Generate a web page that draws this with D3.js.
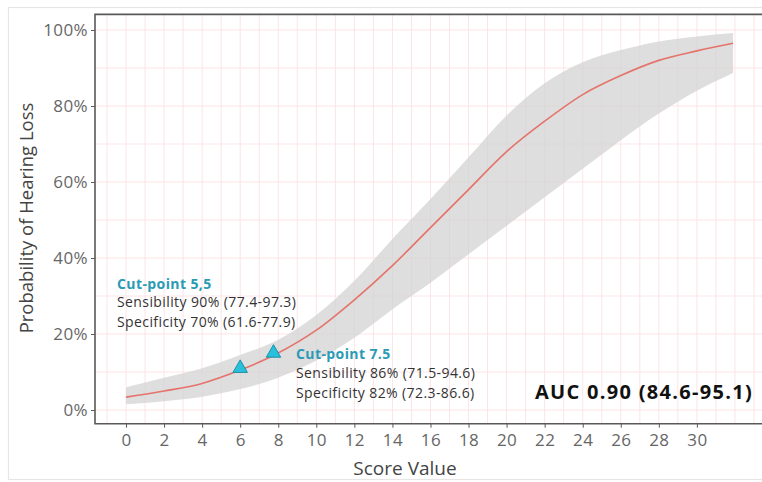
<!DOCTYPE html>
<html><head><meta charset="utf-8">
<script src="https://cdn.jsdelivr.net/npm/d3@7"></script>
<style>html,body{margin:0;padding:0;background:#fff;}svg{display:block;font-family:"Open Sans",sans-serif;}</style>
</head><body>
<svg id="chart" width="762" height="482"></svg>
<script>
// Data
const scoreX  = [0, 2, 4, 6, 8, 10, 12, 14, 16, 18, 20, 22, 24, 26, 28, 30, 31.9];
const probFit = [0.034, 0.05, 0.07, 0.105, 0.15, 0.21, 0.29, 0.38, 0.48, 0.58, 0.68, 0.76, 0.83, 0.88, 0.92, 0.945, 0.965];
const ciLower = [0.015, 0.023, 0.035, 0.055, 0.085, 0.13, 0.19, 0.265, 0.335, 0.41, 0.485, 0.56, 0.635, 0.71, 0.78, 0.84, 0.887];
const ciUpper = [0.06, 0.085, 0.11, 0.145, 0.185, 0.25, 0.34, 0.45, 0.555, 0.665, 0.775, 0.86, 0.915, 0.947, 0.97, 0.983, 0.992];
const cutX = [6, 7.75];
const cutP = [0.11, 0.15];
const xTicks = [0, 2, 4, 6, 8, 10, 12, 14, 16, 18, 20, 22, 24, 26, 28, 30];
const yTicks = [0, 0.2, 0.4, 0.6, 0.8, 1.0];
const xGrid = d3.range(-1, 34, 1);
const yGrid = d3.range(0, 1.01, 0.1);

const svg = d3.select("#chart");
const x = d3.scaleLinear().domain([-1.63, 33.5]).range([95, 763.5]);
const y = d3.scaleLinear().domain([-0.036, 1.041]).range([423.7, 14.4]);

// outer frame
svg.append("rect").attr("x", 8.5).attr("y", 7.5).attr("width", 770).attr("height", 472)
  .attr("fill", "none").attr("stroke", "#e6e6e6").attr("stroke-width", 1.2);

const plot = svg.append("g");
plot.append("rect").attr("x", x.range()[0]).attr("y", y.range()[1])
  .attr("width", x.range()[1] - x.range()[0]).attr("height", y.range()[0] - y.range()[1])
  .attr("fill", "#fff");

// grid
plot.append("g").selectAll("line").data(xGrid).join("line")
  .attr("x1", d => x(d)).attr("x2", d => x(d)).attr("y1", y.range()[0]).attr("y2", y.range()[1])
  .attr("stroke", "#fce4e7").attr("stroke-width", 1);
plot.append("g").selectAll("line").data(yGrid).join("line")
  .attr("x1", x.range()[0]).attr("x2", x.range()[1]).attr("y1", d => y(d)).attr("y2", d => y(d))
  .attr("stroke", "#fce4e7").attr("stroke-width", 1);

const rows = scoreX.map((s, i) => ({s, p: probFit[i], lo: ciLower[i], hi: ciUpper[i]}));

plot.append("path").datum(rows)
  .attr("d", d3.area().x(d => x(d.s)).y0(d => y(d.lo)).y1(d => y(d.hi)).curve(d3.curveMonotoneX))
  .attr("fill", "#d3d3d3").attr("fill-opacity", 0.75);

plot.append("path").datum(rows)
  .attr("d", d3.line().x(d => x(d.s)).y(d => y(d.p)).curve(d3.curveMonotoneX))
  .attr("fill", "none").attr("stroke", "#e5736b").attr("stroke-width", 1.6);

// cut-point markers
plot.append("g").selectAll("path").data(cutX).join("path")
  .attr("transform", (d, i) => `translate(${x(d)},${y(cutP[i])})`)
  .attr("d", d3.symbol().type(d3.symbolTriangle).size(90))
  .attr("fill", "#29c0dc").attr("stroke", "#1b8fa6").attr("stroke-width", 1);

// panel border (left, top, bottom)
const bx0 = x.range()[0], bx1 = x.range()[1], by0 = y.range()[1], by1 = y.range()[0];
svg.append("path").attr("d", `M${bx1},${by0}H${bx0}V${by1}H${bx1}`)
  .attr("fill", "none").attr("stroke", "#595959").attr("stroke-width", 1.6);

// axes
const xAxis = svg.append("g").attr("transform", `translate(0,${by1})`)
  .call(d3.axisBottom(x).tickValues(xTicks).tickSize(4).tickPadding(6).tickFormat(d3.format("d")));
const yAxis = svg.append("g").attr("transform", `translate(${bx0},0)`)
  .call(d3.axisLeft(y).tickValues(yTicks).tickSize(4).tickPadding(3).tickFormat(d3.format(".0%")));
[xAxis, yAxis].forEach(a => {
  a.select(".domain").remove();
  a.selectAll(".tick line").attr("stroke", "#595959");
  a.selectAll(".tick text").attr("fill", "#666").style("font-size", "17px")
    .style("letter-spacing", "0.4px").style("font-family", "Open Sans");
});

// axis titles
svg.append("text").attr("x", 405).attr("y", 475).attr("text-anchor", "middle")
  .attr("fill", "#444").style("font-size", "19px").text("Score Value");
svg.append("text").attr("transform", "translate(33,218) rotate(-90)").attr("text-anchor", "middle")
  .attr("fill", "#444").style("font-size", "18.5px").text("Probability of Hearing Loss");

// annotations
const ann = svg.append("g").style("font-size", "14px").style("letter-spacing", "0.4px");
ann.append("text").attr("x", 117).attr("y", 289).attr("fill", "#2a9ab5").style("font-weight", "bold").text("Cut-point 5,5");
ann.append("text").attr("x", 117).attr("y", 307).attr("fill", "#333").text("Sensibility 90% (77.4-97.3)");
ann.append("text").attr("x", 117).attr("y", 327).attr("fill", "#333").text("Specificity 70% (61.6-77.9)");
ann.append("text").attr("x", 296).attr("y", 359).attr("fill", "#2a9ab5").style("font-weight", "bold").text("Cut-point 7.5");
ann.append("text").attr("x", 296).attr("y", 378).attr("fill", "#333").text("Sensibility 86% (71.5-94.6)");
ann.append("text").attr("x", 296).attr("y", 398).attr("fill", "#333").text("Specificity 82% (72.3-86.6)");
svg.append("text").attr("x", 535).attr("y", 399).attr("fill", "#111").style("font-weight", "bold")
  .style("font-size", "20px").style("letter-spacing", "1.3px").text("AUC 0.90 (84.6-95.1)");
</script>
</body></html>
